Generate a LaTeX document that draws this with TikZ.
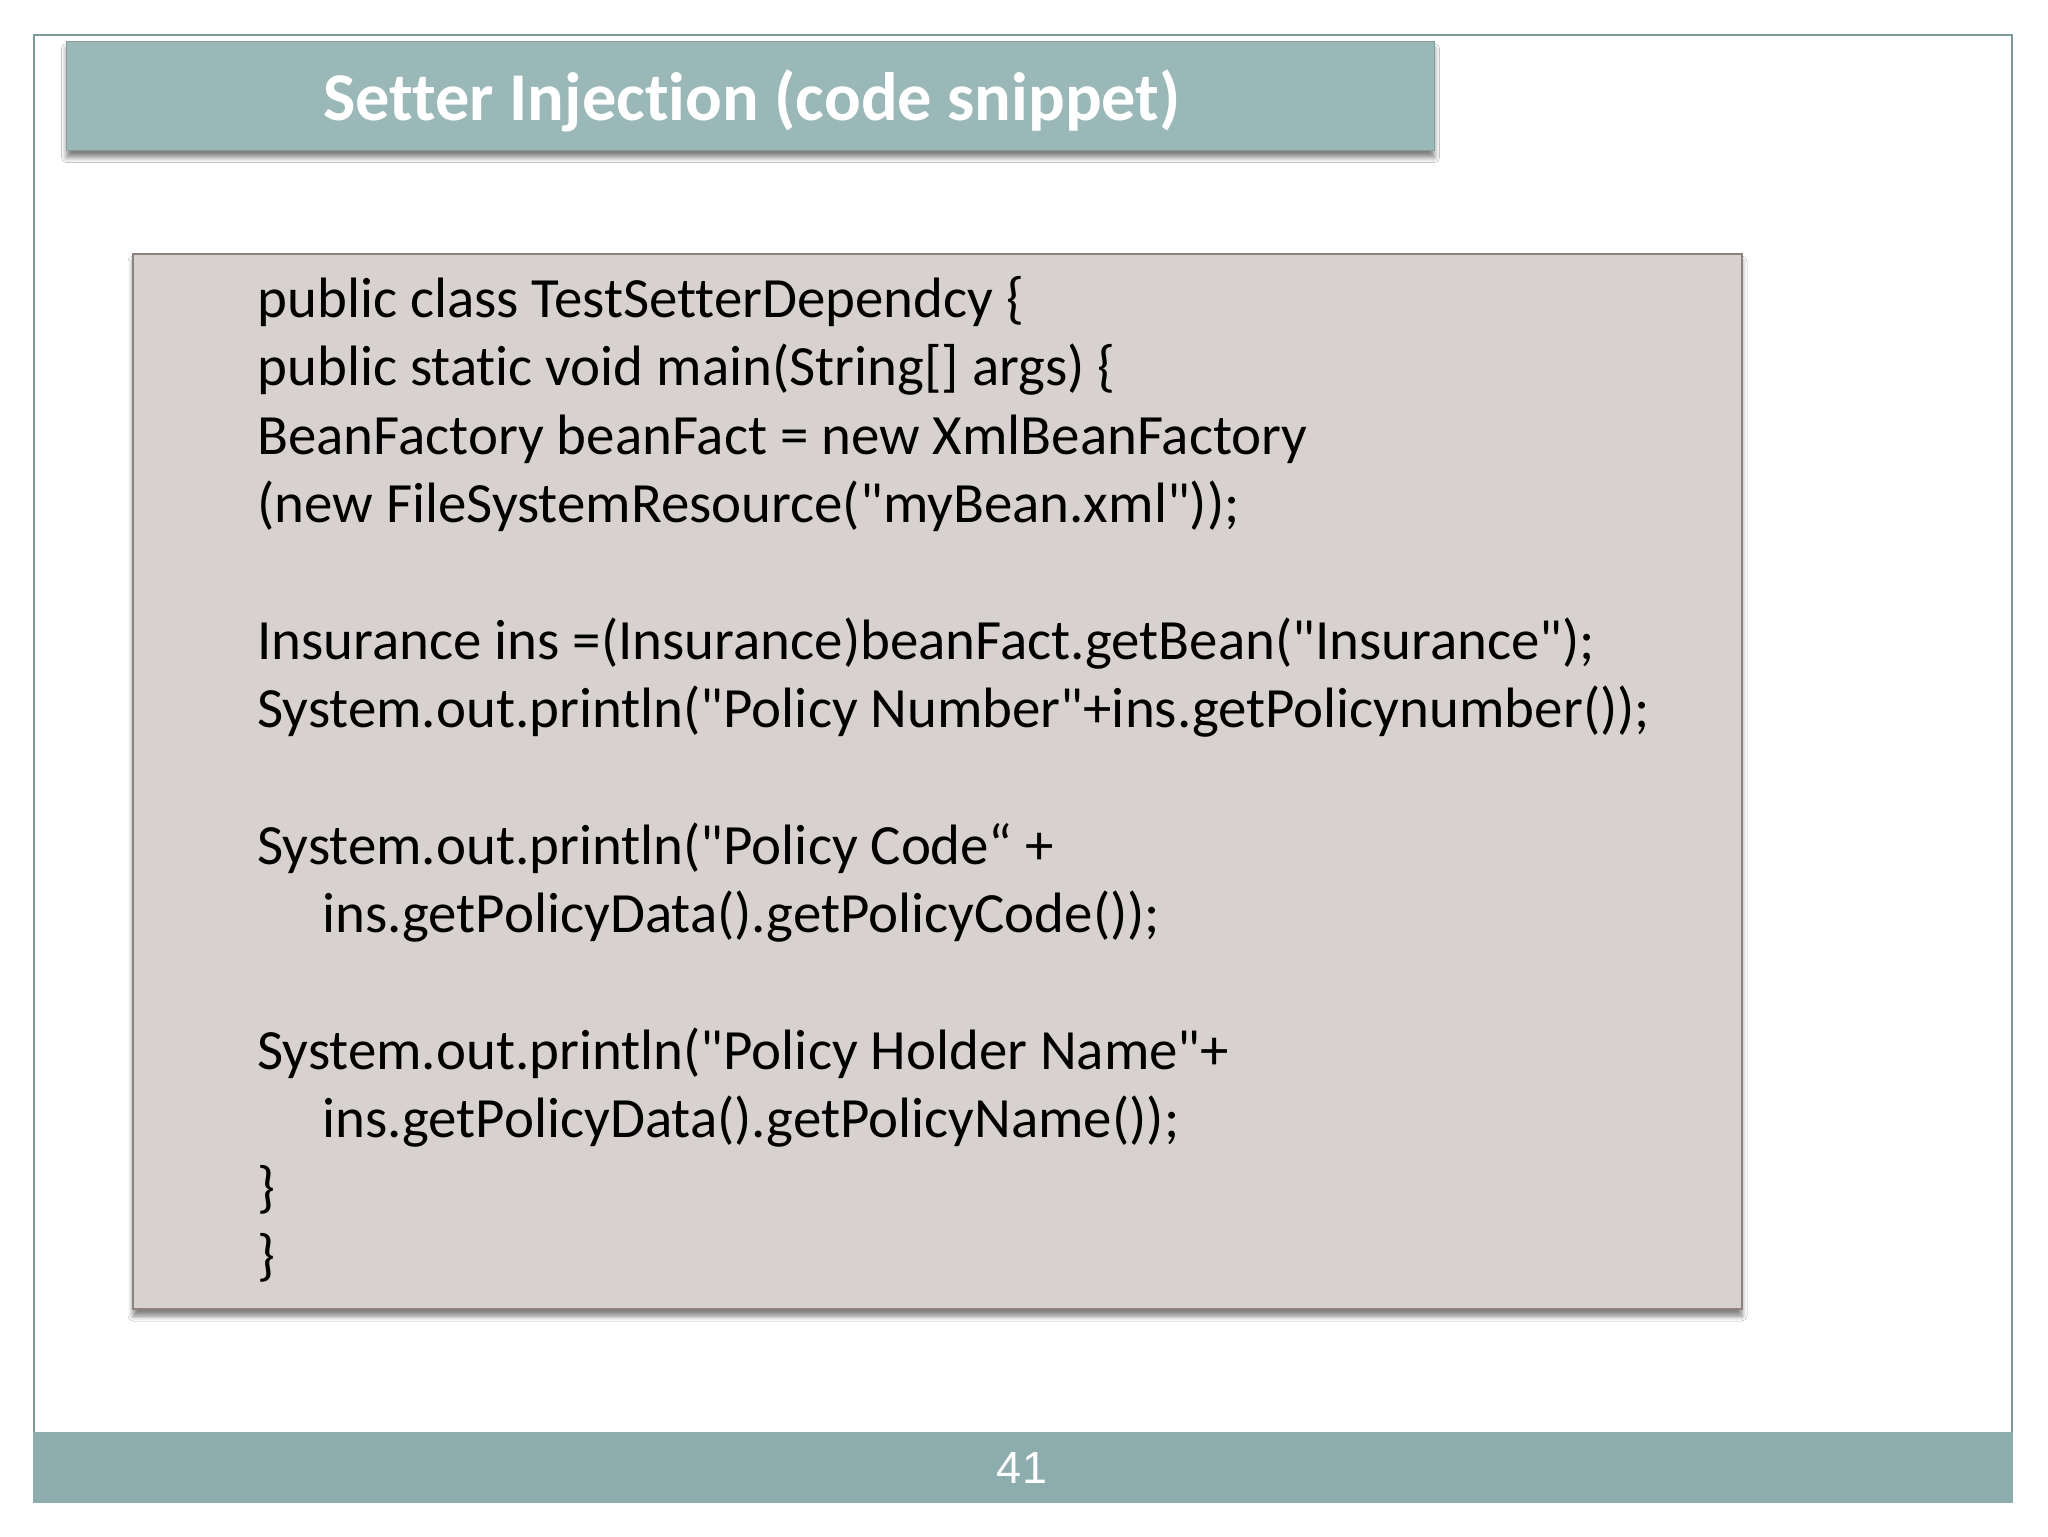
\documentclass[tikz,border=0pt]{standalone}
\usepackage{fontspec}
\setmainfont{Carlito}[Ligatures={TeXOff,NoCommon}]
\newfontfamily\footfont{Liberation Sans}
\usetikzlibrary{shadows.blur}
\definecolor{framecol}{HTML}{7C9C9B}
\definecolor{titlecol}{HTML}{9BB8B8}
\definecolor{codefill}{HTML}{D7D2CF}
\definecolor{codeline}{HTML}{8E817B}
\definecolor{footcol}{HTML}{8DACAD}
\tikzset{
  codetext/.style={anchor=base west, inner sep=0pt, font=\fontsize{28.45}{34}\selectfont, text=black},
  softshadow/.style={blur shadow={shadow xshift=0pt, shadow yshift=-3.5pt, shadow blur steps=6, shadow blur radius=2.5pt, shadow opacity=50}},
}
\begin{document}
\begin{tikzpicture}[x=0.5pt,y=-0.5pt]
\useasboundingbox[fill=white] (0,0) rectangle (2048,1536);
% outer frame
\draw[framecol, line width=1.2pt, fill=white] (34,1432) -- (34,35) -- (2012,35) -- (2012,1432);
% footer
\fill[footcol] (33,1432) rectangle (2013,1503);
\node[font=\footfont\fontsize{22.5}{26}\selectfont, text=white, anchor=base, inner sep=0pt] (pagenum) at (1022,1483) {41};
% title box
\node[draw=titlecol!85!black, line width=0.5pt, fill=titlecol, minimum width=684pt, minimum height=54.5pt, inner sep=0pt, anchor=north west, softshadow] (titlebox) at (66,41) {};
\node[font=\bfseries\fontsize{34.2}{40}\selectfont, text=white, anchor=base, inner sep=0pt] (title) at (752,120) {Setter Injection (code snippet)};
% code box
\node[draw=codeline, line width=1pt, fill=codefill, minimum width=804.5pt, minimum height=527.5pt, inner sep=0pt, anchor=north west, softshadow] (codebox) at (132,253) {};
\node[codetext] (l1) at (257,317) {public class TestSetterDependcy \{};
\node[codetext] (l2) at (257,385) {public static void main(String[] args) \{};
\node[codetext] (l3) at (257,454) {BeanFactory beanFact = new XmlBeanFactory};
\node[codetext] (l4) at (257,522) {(new FileSystemResource("myBean.xml"));};
\node[codetext] (l6) at (257,659) {Insurance ins =(Insurance)beanFact.getBean("Insurance");};
\node[codetext] (l7) at (257,727) {System.out.println("Policy Number"+ins.getPolicynumber());};
\node[codetext] (l9) at (257,864) {System.out.println("Policy Code“ +};
\node[codetext] (l10) at (322,932) {ins.getPolicyData().getPolicyCode());};
\node[codetext] (l12) at (257,1069) {System.out.println("Policy Holder Name"+};
\node[codetext] (l13) at (322,1137) {ins.getPolicyData().getPolicyName());};
\node[codetext] (l14) at (257,1206) {\}};
\node[codetext] (l15) at (257,1274) {\}};
\end{tikzpicture}
\end{document}
